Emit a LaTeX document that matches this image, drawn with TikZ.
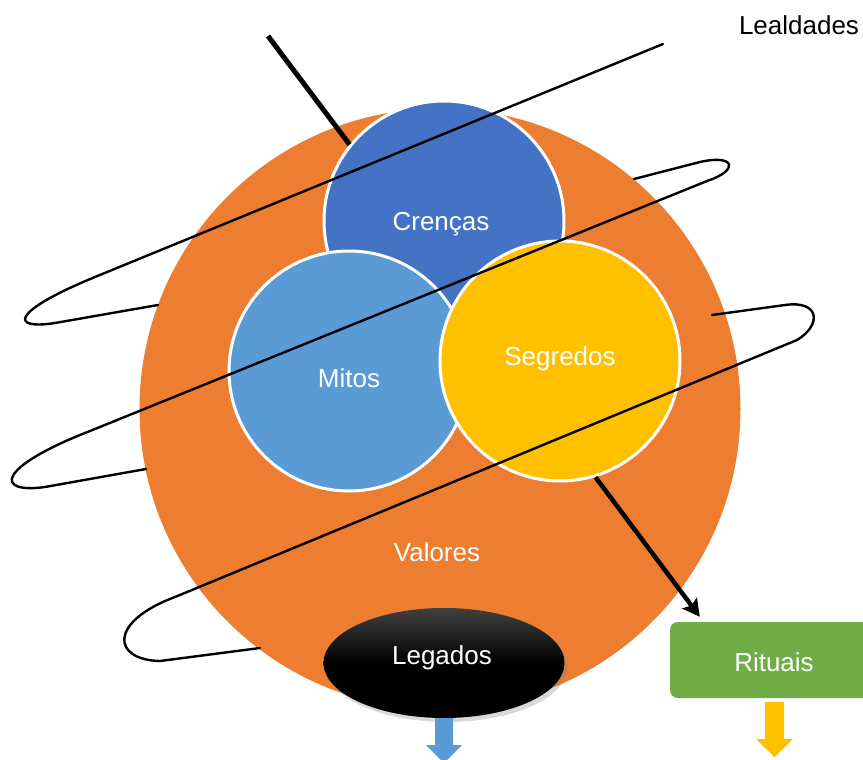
\documentclass[tikz,border=0pt]{standalone}
\usepackage{fontspec}
\setmainfont{Liberation Sans}
\usepackage{tikz}
\usetikzlibrary{shapes.geometric,shadows,arrows.meta}

\definecolor{valorfill}{HTML}{ED7D31}
\definecolor{crencafill}{HTML}{4472C4}
\definecolor{mitofill}{HTML}{5B9BD5}
\definecolor{segredofill}{HTML}{FFC000}
\definecolor{ritualfill}{HTML}{70AD47}

\begin{document}
\begin{tikzpicture}[x=1pt,y=-1pt,
		txt/.style={font=\fontsize{26}{30}\selectfont, anchor=base},
		inlbl/.style={txt, text=white},
		bubble/.style={circle, draw=white, line width=3pt, inner sep=0pt,
			minimum size=240pt},
		coil/.style={line width=2.4pt, line join=round, line cap=round}]

			\useasboundingbox (0,0) rectangle (863,760);
			\clip (0,0) rectangle (863,760);

			% outer circle and the three bubbles
			\node [circle, fill=valorfill, minimum size=601pt, inner sep=0pt] (familia) at (440,409) {};
			\node [bubble, fill=crencafill] (crencas) at (444,221) {};
			\node [bubble, fill=mitofill] (mitos) at (349,371) {};
			\node [bubble, fill=segredofill] (segredos) at (560,361) {};

			\node [ellipse, minimum width=241pt, minimum height=110pt, inner sep=0pt,
				top color=black!75, bottom color=black, middle color=black,
				drop shadow={shadow xshift=3pt, shadow yshift=-4pt, opacity=.3}] (legados) at (444,663) {};

			\node [rectangle, rounded corners=8pt, fill=ritualfill, minimum width=208pt,
				minimum height=76pt] (rituais) at (774,660) {};

			% texts, set on their baselines
			\node [inlbl] (valores-txt) at (437,561) {Valores};
			\node [inlbl] (crencas-txt) at (441,230) {Crenças};
			\node [inlbl] (mitos-txt) at (349,387) {Mitos};
			\node [inlbl] (segredos-txt) at (560,365) {Segredos};
			\node [inlbl] (legados-txt) at (442,664) {Legados};
			\node [inlbl] (rituais-txt) at (774,671) {Rituais};
			\node [txt] (lealdades) at (799,35) {Lealdades};

			% block arrows below
			\fill [mitofill] (435,718) -- (453,718) -- (453,745) -- (462,745) -- (444,763)
				-- (426,745) -- (435,745) -- cycle;
			\fill [segredofill] (765,702) -- (784,702) -- (784,739) -- (793,739) -- (774.5,757)
				-- (756,739) -- (765,739) -- cycle;

			% thick lines
			\coordinate (topend) at (268,36);
			\draw [line width=5pt] (crencas.141) -- (topend);
			\draw [-{Stealth[length=17pt,width=18pt,inset=3pt]}, line width=4.5pt]
				(segredos.-73) -- ([shift={(30,-5)}]rituais.north west);

			% the coil round the circle
			\draw [coil] (663,44) -- (95,277) .. controls (10,312) and (10,330) .. (55,323) -- (158,305);
			\draw [coil] (634,179) -- (700,162) .. controls (735,154) and (740,170) .. (707,181)
				-- (90,431) .. controls (-5,468) and (-5,494) .. (45,487) -- (146,469);
			\draw [coil] (712,315) -- (785,305) .. controls (820,300) and (822,325) .. (797,340)
				-- (175,597) .. controls (108,622) and (112,660) .. (160,661) -- (260,648);
		\end{tikzpicture}
\end{document}
